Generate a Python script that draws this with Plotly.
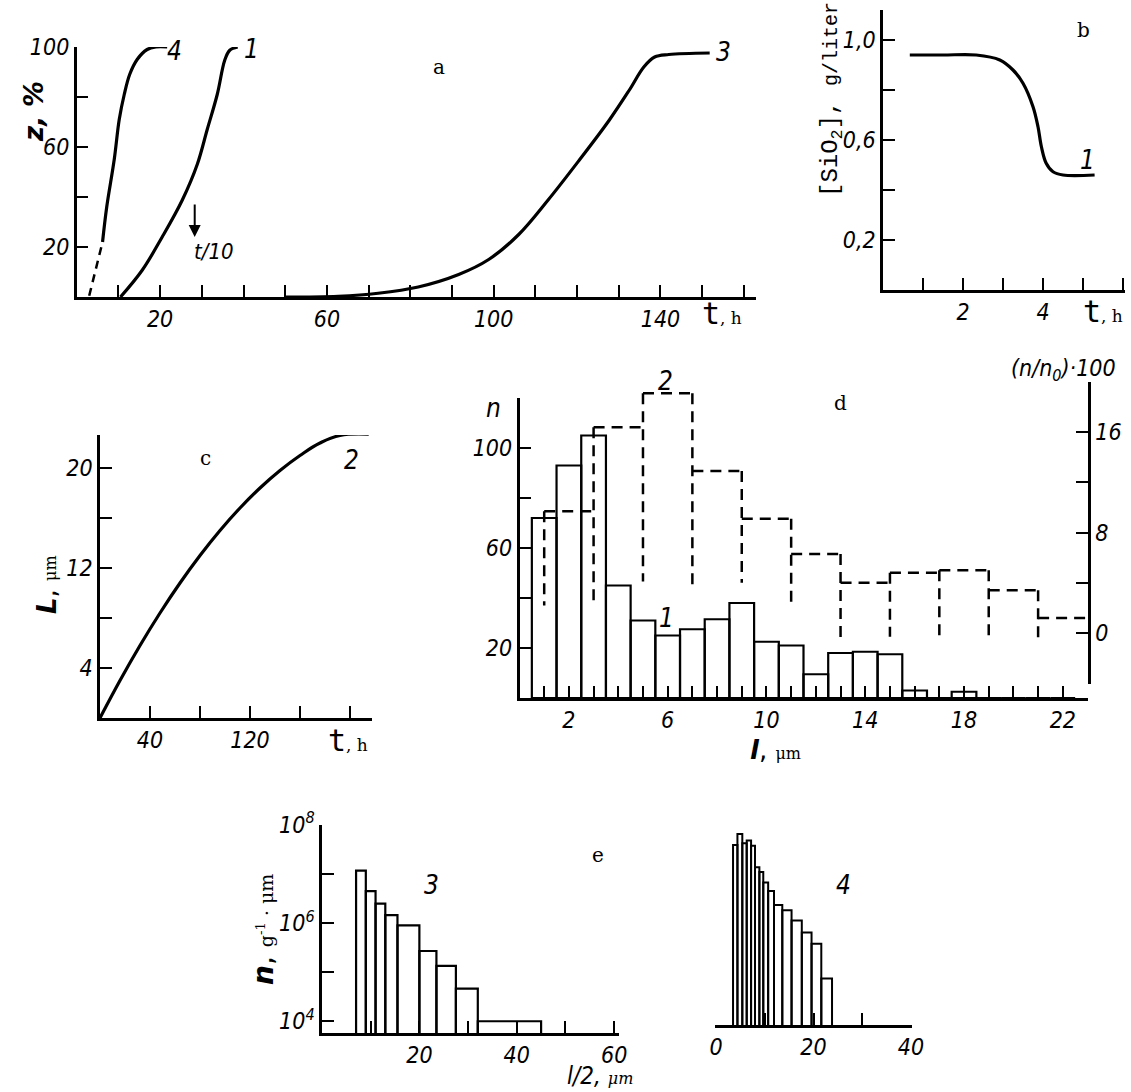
import plotly.graph_objects as go

W, H = 1131, 1092

# ---------------- data ----------------
# panel a : conversion z (%) vs time t (h)
a4_dash_t = [3.0, 6.2]
a4_dash_z = [0.5, 22]
a4_t = [6.2, 7.2, 9.0, 10.2, 11.4, 12.7, 14.5, 16.9, 19.0, 21.7]
a4_z = [22, 36, 55, 71, 81, 89, 95, 99, 100, 100]
a1_t = [10.5, 15.7, 20.5, 25.3, 28.9, 31.3, 33.7, 35.5, 36.7, 38.6]
a1_z = [0, 10.7, 24, 38.7, 53, 67, 81, 94.7, 98.7, 100]
a3_t = [50, 62.7, 72.3, 81.9, 91.6, 98.8, 106, 113, 120.5, 127.7, 132.5, 136, 138.6, 142, 151.8]
a3_z = [0, 0.3, 1.5, 4, 9, 15, 25, 38.7, 54.7, 70.7, 82.7, 92, 96, 97, 97.6]

# panel b : [SiO2] vs t
b_t = [0.67, 1.5, 2.33, 2.92, 3.25, 3.5, 3.75, 3.875, 3.96, 4.08, 4.25, 4.5, 5.29]
b_c = [0.94, 0.94, 0.94, 0.92, 0.88, 0.827, 0.733, 0.653, 0.573, 0.507, 0.473, 0.46, 0.46]

# panel c : L vs t
c_t = [0, 16, 32, 48, 64, 80, 96, 112, 128, 144, 160, 176, 192, 215]
c_L = [0, 3.0, 5.8, 8.4, 10.8, 13.0, 15.0, 16.8, 18.4, 19.8, 21.0, 22.0, 22.6, 22.7]

# panel d : histogram 1 (n, solid) and 2 ((n/n0)*100, dashed)
d1_l = list(range(1, 23))
d1_n = [72, 93, 105, 45, 31, 25, 27.5, 31.5, 38, 22.5, 21, 9.5, 18, 18.5, 17.5, 3, 0, 2.5, 0, 0, 0, 0]
d2_edges = [1, 3, 5, 7, 9, 11, 13, 15, 17, 19, 21, 23]
d2_v = [9.7, 16.4, 19.1, 12.9, 9.1, 6.3, 4.0, 4.8, 5.0, 3.4, 1.2]
d2_drop = [2.2, 2.1, 4.1, 3.4, 4.0, 2.35, -0.6, -0.3, -0.3, -0.3, -0.45]

# panel e : histograms 3 and 4 (log scale)
e3_edges = [7, 9, 11, 13, 15.5, 20, 23.5, 27.5, 32, 45]
e3_n = [1.17e7, 4.5e6, 2.5e6, 1.45e6, 9.0e5, 2.7e5, 1.35e5, 4.6e4, 1.0e4]
e4_edges = [3.5, 4.4, 5.4, 6.3, 7.2, 8.0, 8.9, 9.7, 10.7, 11.9, 13.6, 15.5, 17.6, 19.6, 21.6, 23.8]
e4_n = [2.7e7, 4.5e7, 2.9e7, 3.3e7, 2.6e7, 9.5e6, 7.6e6, 4.6e6, 3.1e6, 1.6e6, 1.26e6,
        7.8e5, 4.4e5, 2.6e5, 5.1e4]

# ticks: (all tick positions, labelled ones)
a_xt = list(range(10, 170, 10)); a_xl = {20: '20', 60: '60', 100: '100', 140: '140'}
a_yt = [20, 40, 60, 80, 100]; a_yl = {20: '20', 60: '60', 100: '100'}
b_xt = [1, 2, 3, 4, 5, 6]; b_xl = {2: '2', 4: '4'}
b_yt = [0.2, 0.4, 0.6, 0.8, 1.0]; b_yl = {0.2: '0,2', 0.6: '0,6', 1.0: '1,0'}
c_xt = [40, 80, 120, 160, 200]; c_xl = {40: '40', 120: '120'}
c_yt = [4, 8, 12, 16, 20]; c_yl = {4: '4', 12: '12', 20: '20'}
d_xt = list(range(1, 23)); d_xl = {2: '2', 6: '6', 10: '10', 14: '14', 18: '18', 22: '22'}
d_yt = [20, 40, 60, 80, 100, 120]; d_yl = {20: '20', 60: '60', 100: '100'}
d_rt = [0, 4, 8, 12, 16, 20]; d_rl = {0: '0', 8: '8', 16: '16'}
e3_xt = [10, 20, 30, 40, 50, 60]; e3_xl = {20: '20', 40: '40', 60: '60'}
e_yt = [1e4, 1e5, 1e6, 1e7, 1e8]; e_yl = {1e4: '10<sup>4</sup>', 1e6: '10<sup>6</sup>', 1e8: '10<sup>8</sup>'}
e4_xt = [0, 10, 20, 30, 40]; e4_xl = {0: '0', 20: '20', 40: '40'}

# ---------------- helpers ----------------
TF = dict(family="DejaVu Sans Condensed, Liberation Sans Narrow, DejaVu Sans", size=23,
          color="black", style="italic")
BLK = "black"


def xd(a, b):
    return [a / W, b / W]


def yd(top, bottom):
    return [1 - bottom / H, 1 - top / H]


def axis(domain, rng, tv, tl, anchor, **kw):
    major = [v for v in tv if v in tl]
    minor = [v for v in tv if v not in tl]
    d = dict(domain=domain, range=rng, tickmode="array", tickvals=major,
             ticktext=[tl[v] for v in major], ticks="inside" if major else "", ticklen=12,
             tickwidth=2, tickcolor=BLK, showline=True, linewidth=2.5, linecolor=BLK,
             showgrid=False, zeroline=False, tickfont=TF, fixedrange=True, anchor=anchor,
             automargin=False,
             minor=dict(tickmode="array", tickvals=minor, ticks="inside" if minor else "",
                        ticklen=12, tickwidth=2, tickcolor=BLK, showgrid=False))
    d.update(kw)
    return d


def px(x, y):
    return x / W, 1 - y / H


fig = go.Figure()
LW = 3.2
SM = 1.0

# panel a
fig.add_trace(go.Scatter(x=a4_dash_t, y=a4_dash_z, mode="lines", xaxis="x", yaxis="y",
                         line=dict(color=BLK, width=2.5, dash="8px,6px")))
for tt, zz in [(a4_t, a4_z), (a1_t, a1_z), (a3_t, a3_z)]:
    fig.add_trace(go.Scatter(x=tt, y=zz, mode="lines", xaxis="x", yaxis="y",
                             line=dict(color=BLK, width=LW, shape="spline", smoothing=SM)))
# panel b
fig.add_trace(go.Scatter(x=b_t, y=b_c, mode="lines", xaxis="x2", yaxis="y2",
                         line=dict(color=BLK, width=LW, shape="spline", smoothing=SM)))
# panel c
fig.add_trace(go.Scatter(x=c_t, y=c_L, mode="lines", xaxis="x3", yaxis="y3",
                         line=dict(color=BLK, width=LW, shape="spline", smoothing=1.2)))
# panel d - solid histogram
fig.add_trace(go.Bar(x=d1_l, y=d1_n, width=[1] * len(d1_l), xaxis="x4", yaxis="y4",
                     marker=dict(color="rgba(0,0,0,0)", line=dict(color=BLK, width=2.2))))
# panel d - dashed histogram
dx, dy = [], []
for i in range(len(d2_v)):
    dx += [d2_edges[i], d2_edges[i + 1], None]
    dy += [d2_v[i], d2_v[i], None]
for i, e in enumerate(d2_edges[:-1]):
    top = d2_v[i] if i == 0 else max(d2_v[i - 1], d2_v[i])
    dx += [e, e, None]
    dy += [top, d2_drop[i], None]
fig.add_trace(go.Scatter(x=dx, y=dy, mode="lines", xaxis="x5", yaxis="y5",
                         line=dict(color=BLK, width=2.5, dash="11px,7px")))


def centers(edges):
    return [(edges[i] + edges[i + 1]) / 2 for i in range(len(edges) - 1)], \
           [edges[i + 1] - edges[i] for i in range(len(edges) - 1)]


c3, w3 = centers(e3_edges)
c4, w4 = centers(e4_edges)
fig.add_trace(go.Bar(x=c3, y=e3_n, width=w3, xaxis="x6", yaxis="y6",
                     marker=dict(color="rgba(0,0,0,0)", line=dict(color=BLK, width=2.2))))
fig.add_trace(go.Bar(x=c4, y=e4_n, width=w4, xaxis="x7", yaxis="y7",
                     marker=dict(color="rgba(0,0,0,0)", line=dict(color=BLK, width=2.0))))

lay = dict(
    width=W, height=H, margin=dict(l=0, r=0, t=0, b=0, autoexpand=False), showlegend=False,
    paper_bgcolor="white", plot_bgcolor="rgba(0,0,0,0)", barmode="overlay",
    xaxis=axis(xd(76.7, 756.4), [0, 163], a_xt, a_xl, "y"),
    yaxis=axis(yd(47, 297), [0, 100], a_yt, a_yl, "x"),
    xaxis2=axis(xd(883, 1125), [0, 6.05], b_xt, b_xl, "y2"),
    yaxis2=axis(yd(10, 290), [0, 1.12], b_yt, b_yl, "x2"),
    xaxis3=axis(xd(100, 372), [0, 217.6], c_xt, c_xl, "y3"),
    yaxis3=axis(yd(435, 718), [0, 22.64], c_yt, c_yl, "x3"),
    xaxis4=axis(xd(519.5, 1088), [0, 23.02], d_xt, d_xl, "y4"),
    yaxis4=axis(yd(398, 698), [0, 120], d_yt, d_yl, "x4"),
    xaxis5=axis(xd(519.5, 1088), [0, 23.02], [], {}, "y5", visible=False),
    yaxis5=axis(yd(382, 684), [-4.06, 20], d_rt, d_rl, "x5", side="right"),
    xaxis6=axis(xd(322, 619), [0, 61], e3_xt, e3_xl, "y6"),
    yaxis6=axis(yd(825, 1033), [3.76, 8], e_yt, e_yl, "x6", type="log"),
    xaxis7=axis(xd(715, 912), [-0.2, 40.2], e4_xt, e4_xl, "y7"),
    yaxis7=axis(yd(817, 1025), [3.76, 8], [], {}, "x7", type="log", visible=False),
)
fig.update_layout(**lay)

ann = []
NUM = dict(family="DejaVu Sans Condensed, DejaVu Sans", size=26, color=BLK, style="italic")
SER = dict(family="DejaVu Serif, Liberation Serif", size=20, color=BLK)
TH = "<span style='font-family:DejaVu Sans Mono;font-size:30px'>t</span>, h"
THF = dict(family="DejaVu Serif", size=17, color=BLK)


def A(x, y, text, font, xref="paper", yref="paper", angle=0, xanchor="center", yanchor="middle"):
    if xref == "paper":
        x, y = px(x, y)
    ann.append(dict(x=x, y=y, text=text, font=font, xref=xref, yref=yref, showarrow=False,
                    textangle=angle, xanchor=xanchor, yanchor=yanchor))


# panel a
A(23.5, 98.5, "4", NUM, "x", "y")
A(42, 99, "1", NUM, "x", "y")
A(155, 98, "3", NUM, "x", "y")
A(87, 92, "a", SER, "x", "y")
A(33, 18, "t/10", dict(NUM, size=22), "x", "y")
ann.append(dict(x=28.3, y=24, xref="x", yref="y", ax=0, ay=-34, showarrow=True,
                arrowhead=2, arrowsize=1.2, arrowwidth=2, arrowcolor=BLK, text=""))
A(34, 112, "<b><i>z, %</i></b>", dict(family="DejaVu Sans, sans-serif", size=26, color=BLK), angle=-90)
A(722, 313, TH, THF)

# panel b
A(5.1, 0.52, "1", NUM, "x2", "y2")
A(5.0, 1.04, "b", SER, "x2", "y2")
A(832, 100, "[SiO<sub>2</sub>], <span style='font-size:20px'>g/liter</span>",
  dict(family="Liberation Mono, DejaVu Sans Mono", size=24, color=BLK), angle=-90)
A(1103, 311, TH, THF)

# panel c
A(201, 20.6, "2", NUM, "x3", "y3")
A(84, 20.8, "c", SER, "x3", "y3")
A(47, 585, "<b><i>L</i></b>, <span style='font-family:DejaVu Serif;font-size:16px'>μm</span>",
  dict(family="DejaVu Sans, sans-serif", size=26, color=BLK), angle=-90)
A(348, 740, TH, THF)

# panel d
A(665, 381, "2", NUM)
A(5.96, 32, "1", NUM, "x4", "y4")
A(13.0, 118, "d", SER, "x4", "y4")
A(493, 408, "<i>n</i>", dict(family="DejaVu Sans Condensed, DejaVu Sans", size=26, color=BLK))
A(1063, 370, "(<i>n</i>/<i>n</i><sub>0</sub>)·100", dict(TF, size=23))
A(775, 750, "<b><i>l</i></b>, <span style='font-family:DejaVu Serif;font-size:16px'>μm</span>",
  dict(family="DejaVu Sans, sans-serif", size=26, color=BLK))

# panel e
A(432, 885, "3", NUM)
A(843, 885, "4", NUM)
A(598, 855, "e", SER)
A(263, 930, "<b><i>n</i></b>, <span style='font-family:DejaVu Serif;font-size:19px'>g<sup>-1</sup> · μm</span>",
  dict(family="DejaVu Sans, sans-serif", size=28, color=BLK), angle=-90)
A(600, 1076, "<i>l/2,</i> <span style='font-family:DejaVu Serif;font-size:16px'>μm</span>",
  dict(TF, size=24))

fig.update_layout(annotations=ann)

post = ("document.body.style.margin='0';document.body.style.overflow='hidden';"
        "function dropEmpty(){document.querySelectorAll('text.xtitle, text.ytitle')"
        ".forEach(function(e){if(!e.textContent.trim()){e.remove();}});}"
        "dropEmpty();setTimeout(dropEmpty,0);")
fig.write_html("out.html", config={"displayModeBar": False}, post_script=post)
